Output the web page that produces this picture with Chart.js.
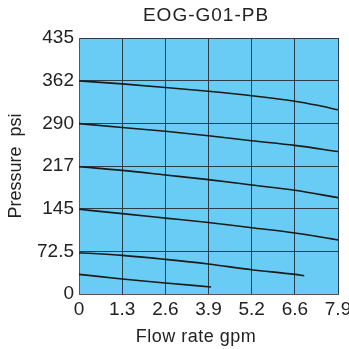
<!DOCTYPE html>
<html>
<head>
<meta charset="utf-8">
<script src="https://cdn.jsdelivr.net/npm/chart.js@4/dist/chart.umd.min.js"></script>
<style>
  html, body { margin: 0; padding: 0; background: #fff; }
  #wrap { width: 349px; height: 349px; }
</style>
</head>
<body>
<div id="wrap"><canvas id="chart" width="349" height="349"></canvas></div>
<script>
// tick positions / labels
const xTickValues = [0, 1.3167, 2.6333, 3.95, 5.2667, 6.5833, 7.9];
const xTickLabels = ["0", "1.3", "2.6", "3.9", "5.2", "6.6", "7.9"];
const yTickValues = [0, 72.5, 145, 217.5, 290, 362.5, 435];
const yTickLabels = ["0", "72.5", "145", "217", "290", "362", "435"];

// curves (flow gpm, pressure psi)
const flowA = [0, 1.3167, 2.6333, 3.95, 5.2667, 6.5833, 7.23, 7.9];
const curve1 = [362, 357, 351, 344.5, 337, 327.5, 321, 313];
const flowB = [0, 1.3167, 2.6333, 3.95, 5.2667, 6.5833, 7.9];
const curve2 = [289.5, 283, 276.5, 269, 260.5, 252.5, 242];
const curve3 = [216.3, 210, 202.2, 194.3, 185.2, 176.2, 163.7];
const curve4 = [144, 136.5, 129, 121.5, 112.7, 103.7, 92];
const flowC = [0, 1.3167, 2.6333, 3.95, 5.2667, 6.5833, 6.87];
const curve5 = [70.2, 65.7, 58.9, 51, 41.3, 33.4, 31.1];
const flowD = [0, 1.3167, 2.6333, 4.03];
const curve6 = [33.4, 25.5, 18.7, 12];

const pts = (xs, ys) => xs.map((x, i) => ({ x: x, y: ys[i] }));

const series = [
  pts(flowA, curve1),
  pts(flowB, curve2),
  pts(flowB, curve3),
  pts(flowB, curve4),
  pts(flowC, curve5),
  pts(flowD, curve6),
];

const font = "'Liberation Sans', Arial, sans-serif";

const plotBg = {
  id: "plotBg",
  beforeDraw(chart) {
    const { ctx, chartArea: a } = chart;
    ctx.save();
    ctx.fillStyle = "#69ccf5";
    ctx.fillRect(a.left, a.top, a.right - a.left, a.bottom - a.top);
    ctx.restore();
  },
  afterDraw(chart) {
    // chart title and x axis title, placed like the original
    const { ctx } = chart;
    ctx.save();
    ctx.fillStyle = "#222";
    ctx.textAlign = "center";
    ctx.textBaseline = "middle";
    ctx.font = "19px " + font;
    ctx.letterSpacing = "1px";
    ctx.fillText("EOG-G01-PB", 206, 16);
    ctx.font = "18px " + font;
    ctx.letterSpacing = "0.5px";
    ctx.fillText("Flow rate gpm", 196, 337);
    ctx.restore();
  },
};

new Chart(document.getElementById("chart"), {
  type: "line",
  data: {
    datasets: series.map((d) => ({
      data: d,
      borderColor: "#1a1a1a",
      borderWidth: 1.6,
      pointRadius: 0,
      cubicInterpolationMode: "monotone",
      fill: false,
    })),
  },
  options: {
    responsive: false,
    animation: false,
    layout: { padding: { left: 0, right: 11, top: 38, bottom: 0 } },
    plugins: {
      legend: { display: false },
      tooltip: { enabled: false },
      title: { display: false },
    },
    scales: {
      x: {
        type: "linear",
        min: 0,
        max: 7.9,
        afterBuildTicks: (axis) => { axis.ticks = xTickValues.map((v) => ({ value: v })); },
        afterFit: (axis) => { axis.height = 55; axis.paddingRight = 0; axis.paddingLeft = 0; },
        ticks: {
          autoSkip: false,
          maxRotation: 0,
          padding: 4,
          color: "#222",
          font: { family: font, size: 19 },
          callback: (v, i) => xTickLabels[i],
        },
        grid: { color: "#2b3d48", lineWidth: 1, drawTicks: false },
        border: { color: "#555", width: 1 },
      },
      y: {
        type: "linear",
        min: 0,
        max: 435,
        afterBuildTicks: (axis) => { axis.ticks = yTickValues.map((v) => ({ value: v })); },
        afterFit: (axis) => { axis.width = 79; axis.paddingTop = 0; axis.paddingBottom = 0; },
        ticks: {
          autoSkip: false,
          padding: 5,
          color: "#222",
          font: { family: font, size: 19 },
          callback: (v, i) => yTickLabels[i],
        },
        grid: { color: "#2b3d48", lineWidth: 1, drawTicks: false },
        border: { color: "#555", width: 1 },
        title: {
          display: true,
          text: "Pressure  psi",
          color: "#222",
          font: { family: font, size: 18 },
          padding: { top: 5, bottom: 2 },
        },
      },
    },
  },
  plugins: [plotBg],
});
</script>
</body>
</html>
